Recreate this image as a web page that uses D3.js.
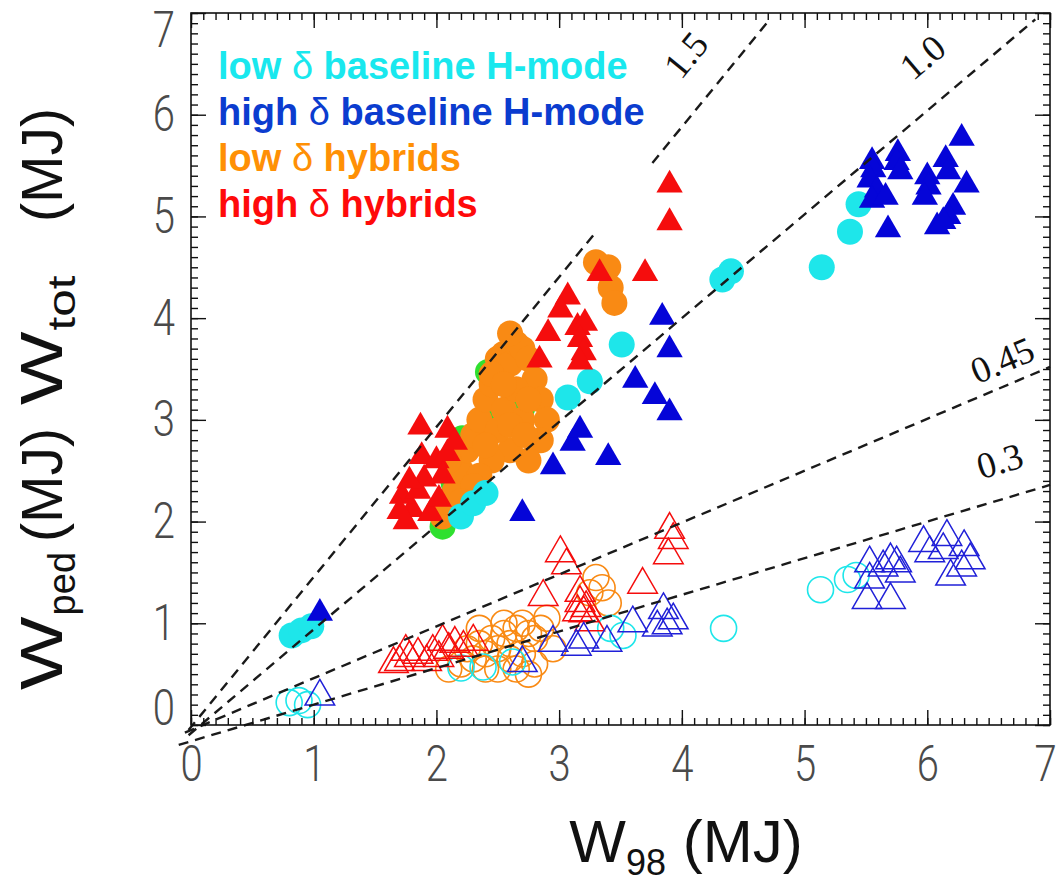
<!DOCTYPE html>
<html>
<head>
<meta charset="utf-8">
<script src="https://cdn.jsdelivr.net/npm/d3@7"></script>
<style>
  html, body { margin: 0; padding: 0; background: #fff; }
  svg { display: block; }
</style>
</head>
<body>
<svg id="chart" width="1057" height="885"></svg>
<script>
// ---- stored energy data (MJ): x = W98, y = Wtot (filled) or Wped (open) ----
const lowBaseTot = [[0.82,0.88],[0.9,0.93],[0.98,0.97],[2.2,2.05],[2.3,2.18],[2.4,2.28],[3.07,3.22],[3.25,3.38],[3.51,3.74],[4.33,4.38],[4.4,4.46],[5.14,4.5],[5.37,4.85],[5.44,5.12]];
const highBaseTot = [[1.05,1.1],[2.7,2.08],[2.95,2.54],[3.11,2.77],[3.17,2.9],[3.4,2.63],[3.62,3.39],[3.78,3.23],[3.9,3.07],[3.9,3.69],[3.84,4.01],
  [5.55,5.54],[5.56,5.46],[5.53,5.36],[5.59,5.26],[5.55,5.16],[5.66,5.19],[5.76,5.62],[5.75,5.53],[5.78,5.44],[5.68,4.87],[6.0,5.39],[6.01,5.29],[5.98,5.19],[6.15,5.56],[6.17,5.44],[6.28,5.77],[6.32,5.31],[6.21,5.09],[6.17,5.0],[6.08,4.9],[6.13,4.95]];
const lowHybTot = [[2.05,2.05],[2.12,2.2],[2.15,2.3],[2.2,2.5],[2.25,2.7],[2.3,2.85],[2.35,3.0],[2.4,3.2],[2.45,3.35],[2.5,3.6],[2.55,3.65],[2.6,3.55],[2.65,3.75],[2.7,3.7],[2.75,3.6],[2.8,3.4],[2.85,3.2],[2.9,3.0],[2.85,2.8],[2.75,2.6],[2.6,2.7],[2.5,2.9],[2.45,2.6],[2.35,2.45],[2.55,3.1],[2.65,3.3],[2.7,3.0],[2.6,2.95],[2.4,2.75],[2.3,2.35],[2.2,2.2],[3.3,4.55],[3.4,4.5],[3.42,4.3],[3.45,4.15],[2.45,3.45],[2.55,3.35],[2.75,3.2],[2.6,3.85],[2.1,2.6],[2.72,2.85]];
const highHybTot = [[1.75,2.0],[1.8,2.12],[1.72,2.25],[1.85,2.3],[1.95,2.08],[1.9,2.42],[2.02,2.22],[1.78,2.4],[1.88,2.64],[2.0,2.6],[2.09,2.67],[1.87,2.93],[2.09,2.9],[2.15,2.78],[1.7,2.1],[2.05,2.45],
  [3.9,5.31],[3.9,4.94],[3.7,4.44],[3.33,4.44],[3.07,4.21],[3.01,4.08],[2.91,3.85],[2.84,3.59],[3.15,3.91],[3.21,3.95],[3.17,3.79],[3.2,3.66],[3.17,3.57]];
const otherTot = [[2.05,1.95],[2.14,2.38],[2.21,2.82],[2.4,3.03],[2.42,3.47],[2.7,3.12]];

const lowBasePed = [[0.8,0.22],[0.88,0.24],[0.95,0.2],[2.2,0.56],[2.38,0.57],[2.62,0.62],[3.42,0.95],[3.52,0.88],[4.34,0.95],[5.13,1.33],[5.35,1.43],[5.42,1.47]];
const highBasePed = [[1.05,0.28],[2.7,0.61],[2.95,0.81],[3.14,0.77],[3.2,0.84],[3.39,0.81],[3.6,1.0],[3.8,0.96],[3.85,1.13],[3.93,1.03],[3.88,0.98],
  [5.53,1.59],[5.53,1.43],[5.64,1.55],[5.7,1.62],[5.75,1.59],[5.78,1.49],[5.51,1.23],[5.7,1.23],[5.97,1.79],[6.02,1.69],[6.16,1.85],[6.13,1.72],[6.19,1.46],[6.3,1.75],[6.35,1.62],[6.28,1.55]];
const lowHybPed = [[2.1,0.55],[2.2,0.6],[2.3,0.65],[2.4,0.7],[2.5,0.75],[2.6,0.8],[2.45,0.85],[2.55,0.9],[2.65,0.95],[2.7,1.0],[2.75,0.9],[2.8,0.85],[2.85,0.95],[2.9,1.05],[2.6,0.65],[2.7,0.7],[2.8,0.6],[2.75,0.5],[2.5,0.55],[2.35,0.8],[2.25,0.75],[3.3,1.45],[3.35,1.35],[3.25,1.3],[3.4,1.2],[2.95,0.75],[2.65,0.55],[2.4,0.55],[2.55,1.0],[2.35,0.95]];
const highHybPed = [[1.7,0.62],[1.78,0.66],[1.85,0.69],[1.92,0.62],[1.97,0.72],[2.02,0.66],[2.1,0.74],[2.15,0.8],[2.22,0.76],[2.3,0.82],[1.75,0.72],[2.05,0.82],[1.65,0.6],
  [3.01,1.69],[3.06,1.57],[2.87,1.26],[3.17,1.3],[3.17,1.2],[3.2,1.1],[3.25,1.01],[3.15,1.11],[3.68,1.38],[3.9,1.92],[3.93,1.82],[3.89,1.67],[3.22,1.15]];

// reference ratio lines: y = slope*x + icpt, drawn over [x0,x1] pieces; label anchored at (lx,ly)
const ratioLines = [
  { label: "1.5",  slope: 1.475, icpt: -0.02, pieces: [[-0.02, 3.3], [3.76, 4.7]], lx: 4.03, ly: 6.59 },
  { label: "1.0",  slope: 1.02,  icpt: -0.08, pieces: [[-0.02, 6.88]],             lx: 5.96, ly: 6.57 },
  { label: "0.45", slope: 0.51,  icpt: -0.05, pieces: [[-0.05, 7.0]],              lx: 6.61, ly: 3.59 },
  { label: "0.3",  slope: 0.36,  icpt: -0.16, pieces: [[-0.1, 7.0]],               lx: 6.59, ly: 2.60 }
];

const xTickValues = [0, 1, 2, 3, 4, 5, 6, 7];
const yTickValues = [0, 1, 2, 3, 4, 5, 6, 7];

const legendItems = [
  { pre: "low ",  post: " baseline H-mode", color: "#19e8ee" },
  { pre: "high ", post: " baseline H-mode", color: "#0b3ccf" },
  { pre: "low ",  post: " hybrids",         color: "#ff9005" },
  { pre: "high ", post: " hybrids",         color: "#ff0a0a" }
];

// ---- layout ----
const svg = d3.select("#chart");
svg.append("rect").attr("width", 1057).attr("height", 885).attr("fill", "#fff");

const x = d3.scaleLinear().domain([0, 7]).range([191, 1050]);
const y = d3.scaleLinear().domain([0, 7]).range([725, 13]);

const C = { cyan: "#1ee6ea", blue: "#0505d8", orange: "#f98a14", red: "#f50d0d", green: "#2fe02f" };

const tri = d3.symbol().type(d3.symbolTriangle);

function filledCircles(data, color) {
  svg.append("g").selectAll("circle").data(data).join("circle")
    .attr("cx", d => x(d[0])).attr("cy", d => y(d[1])).attr("r", 13)
    .attr("fill", color);
}
function openCircles(data, color) {
  svg.append("g").selectAll("circle").data(data).join("circle")
    .attr("cx", d => x(d[0])).attr("cy", d => y(d[1])).attr("r", 13)
    .attr("fill", "none").attr("stroke", color).attr("stroke-width", 1.6);
}
function filledTriangles(data, color) {
  svg.append("g").selectAll("path").data(data).join("path")
    .attr("d", tri.size(300)())
    .attr("transform", d => `translate(${x(d[0])},${y(d[1])})`)
    .attr("fill", color);
}
function openTriangles(data, color) {
  svg.append("g").selectAll("path").data(data).join("path")
    .attr("d", tri.size(380)())
    .attr("transform", d => `translate(${x(d[0])},${y(d[1])})`)
    .attr("fill", "none").attr("stroke", color).attr("stroke-width", 1.5);
}

// pedestal energy (open symbols)
openCircles(lowHybPed, C.orange);
openCircles(lowBasePed, C.cyan);
openTriangles(highHybPed, C.red);
openTriangles(highBasePed, "#2020d8");

// total energy (filled symbols)
filledCircles(otherTot, C.green);
filledCircles(lowHybTot, C.orange);
filledCircles(lowBaseTot, C.cyan);
filledTriangles(highHybTot, C.red);
filledTriangles(highBaseTot, C.blue);

// ratio lines and their labels
const lineGen = d3.line().x(d => x(d[0])).y(d => y(d[1]));
ratioLines.forEach(r => {
  r.pieces.forEach(p => {
    svg.append("path")
      .attr("d", lineGen(p.map(v => [v, r.slope * v + r.icpt])))
      .attr("fill", "none").attr("stroke", "#1a1a1a")
      .attr("stroke-width", 2.4).attr("stroke-dasharray", "10,7");
  });
  const ang = Math.atan2(y(r.slope) - y(0), x(1) - x(0)) * 180 / Math.PI;
  svg.append("text")
    .attr("transform", `translate(${x(r.lx)},${y(r.ly)}) rotate(${ang})`)
    .attr("text-anchor", "middle").attr("dy", "0.35em")
    .attr("font-family", "'Liberation Serif', 'DejaVu Serif', serif")
    .attr("font-size", 37).attr("fill", "#111")
    .text(r.label);
});

// ---- axes (ticks pointing into the frame) ----
const minorVals = d3.range(0, 71).map(i => i / 10);
const tickFont = "Roboto, 'Liberation Sans Narrow', sans-serif";

function styleAxis(g) {
  g.select(".domain").remove();
  g.selectAll("line").attr("stroke", "#111").attr("stroke-width", 1.4);
}

const axes = [
  { fn: d3.axisBottom(x), t: `translate(0,${y(0)})` },
  { fn: d3.axisTop(x),    t: `translate(0,${y(7)})` },
  { fn: d3.axisLeft(y),   t: `translate(${x(0)},0)` },
  { fn: d3.axisRight(y),  t: `translate(${x(7)},0)` }
];
axes.forEach(a => {
  svg.append("g").attr("transform", a.t)
    .call(a.fn.tickValues(minorVals).tickSize(-7).tickFormat(""))
    .call(styleAxis);
});

const bottomG = svg.append("g").attr("transform", `translate(0,${y(0)})`)
  .call(d3.axisBottom(x).tickValues(xTickValues).tickSize(-15).tickPadding(21).tickFormat(d3.format("d")))
  .call(styleAxis);
svg.append("g").attr("transform", `translate(0,${y(7)})`)
  .call(d3.axisTop(x).tickValues(xTickValues).tickSize(-15).tickFormat(""))
  .call(styleAxis);
const leftG = svg.append("g").attr("transform", `translate(${x(0)},0)`)
  .call(d3.axisLeft(y).tickValues(yTickValues).tickSize(-15).tickPadding(20).tickFormat(d3.format("d")))
  .call(styleAxis);
svg.append("g").attr("transform", `translate(${x(7)},0)`)
  .call(d3.axisRight(y).tickValues(yTickValues).tickSize(-15).tickFormat(""))
  .call(styleAxis);

[bottomG, leftG].forEach(g => g.selectAll("text")
  .attr("font-family", tickFont).attr("font-size", 50).attr("font-weight", 300).attr("fill", "#4a4a4a"));
// condensed digits; corner labels nudged to stay inside the page
bottomG.selectAll(".tick text").attr("transform", d => d === 7 ? "translate(-5,0) scale(0.8,1)" : "scale(0.8,1)");
leftG.selectAll(".tick text").attr("transform", d => d === 7 ? "translate(0,17) scale(0.8,1)" : d === 0 ? "translate(0,-17) scale(0.8,1)" : "scale(0.8,1)");

// frame
svg.append("rect").attr("x", x(0)).attr("y", y(7))
  .attr("width", x(7) - x(0)).attr("height", y(0) - y(7))
  .attr("fill", "none").attr("stroke", "#111").attr("stroke-width", 1.6);

// ---- legend ----
const legend = svg.append("g")
  .attr("font-family", "'Liberation Sans', Arial, sans-serif")
  .attr("font-size", 38).attr("font-weight", "bold");
legendItems.forEach((it, i) => {
  const t = legend.append("text").attr("x", 218).attr("y", 79 + i * 46).attr("fill", it.color);
  t.append("tspan").text(it.pre);
  t.append("tspan").attr("font-weight", "normal").text("δ");
  t.append("tspan").text(it.post);
});

// ---- axis titles ----
const titleFont = "'Liberation Sans', Arial, sans-serif";
const xTitle = svg.append("text").attr("font-family", titleFont).attr("font-size", 60).attr("fill", "#111")
  .attr("x", 686).attr("y", 862).attr("text-anchor", "middle");
xTitle.append("tspan").text("W");
xTitle.append("tspan").attr("font-size", 36).attr("dy", 13).text("98");
xTitle.append("tspan").attr("dy", -13).text(" (MJ)");

// vertical titles, reading upward: "W" + subscript from yBottom, "(MJ)" ending at yTop
function verticalTitle(sub, subStretch, yBottom, yTop) {
  const g = svg.append("g").attr("transform", `translate(62,${yBottom}) rotate(-90)`)
    .attr("font-family", titleFont).attr("fill", "#111");
  const w = g.append("text").attr("font-size", 60).attr("transform", "scale(1.3,1)").text("W");
  const wLen = w.node().getComputedTextLength() * 1.3;
  g.append("text").attr("font-size", 38)
    .attr("transform", `translate(${wLen + 1},13) scale(${subStretch},1)`).text(sub);
  g.append("text").attr("font-size", 57).attr("text-anchor", "end")
    .attr("x", yBottom - yTop).text("(MJ)");
}
verticalTitle("tot", 1.3, 405, 108);
verticalTitle("ped", 1.0, 690, 428);
</script>
</body>
</html>
